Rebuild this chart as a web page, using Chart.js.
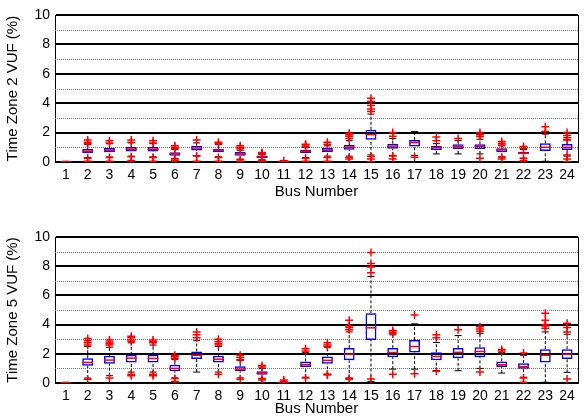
<!DOCTYPE html>
<html>
<head>
<meta charset="utf-8">
<script src="https://cdn.jsdelivr.net/npm/chart.js@4.4.1/dist/chart.umd.min.js"></script>
<style>
	html, body { margin: 0; padding: 0; background: #fff; overflow: hidden; }
	.panel { position: relative; width: 585px; height: 208px; }
</style>
</head>
<body>
<div class="panel"><canvas id="tz2"></canvas></div>
<div class="panel"><canvas id="tz5"></canvas></div>
<script>
// bus numbers on the x axis
const buses = ['1','2','3','4','5','6','7','8','9','10','11','12','13','14','15','16','17','18','19','20','21','22','23','24'];
const yTicks = [0, 2, 4, 6, 8, 10];

// time zone 2 box statistics (VUF %)
const tz2Low  = [0.00,0.30,0.34,0.40,0.35,0.25,0.40,0.35,0.20,0.15,0.02,0.30,0.40,0.40,0.48,0.45,0.45,0.55,0.55,0.55,0.35,0.25,0.05,0.40];
const tz2Q1   = [0.01,0.60,0.66,0.72,0.72,0.43,0.79,0.66,0.43,0.27,0.03,0.61,0.68,0.84,1.52,0.90,1.05,0.82,0.89,0.89,0.66,0.52,0.75,0.82];
const tz2Med  = [0.02,0.72,0.80,0.87,0.86,0.55,0.95,0.80,0.55,0.35,0.04,0.72,0.80,1.00,1.86,1.08,1.32,0.98,1.05,1.07,0.82,0.60,1.00,1.00];
const tz2Q3   = [0.04,0.88,0.95,1.02,1.02,0.66,1.11,0.90,0.68,0.45,0.05,0.84,0.95,1.15,2.19,1.24,1.50,1.09,1.20,1.20,0.93,0.70,1.27,1.23];
const tz2High = [0.05,1.20,1.24,1.30,1.25,0.85,1.30,1.20,0.80,0.50,0.06,1.00,1.10,1.45,3.26,1.60,2.07,1.25,1.45,1.55,1.10,0.85,1.90,1.50];
const tz2Out  = [
	[], [1.25,1.35,1.5,0.25,0.05], [1.3,1.45,0.3,0.05], [1.35,1.5,0.35,0.1,0.0],
	[1.3,1.45,0.3,0.05], [0.9,1.0,1.1,0.2,0.1,0.0], [1.5,0.42,0.05], [1.25,1.35,0.3,0.05],
	[0.9,1.0,1.1,0.15,0.05], [0.55,0.6,0.65,0.1,0.05], [0.08], [1.05,1.15,1.2,0.25,0.05],
	[1.2,1.35,0.3,0.05], [1.6,1.75,1.85,1.95,0.3,0.2], [3.44,3.6,3.85,4.12,4.34,0.38,0.2,0.02], [1.75,2.0,0.4,0.2],
	[0.32], [1.45,1.7], [1.6], [1.73,1.85,2.0,0.25],
	[1.16,1.28,1.39,0.32,0.2], [0.93,1.05,0.25,0.1,0.0], [2.07,2.4], [1.5,1.65,1.8,2.0,0.48,0.2,0.02]
];

// time zone 5 box statistics (VUF %)
const tz5Low  = [0.00,0.34,0.50,0.75,0.75,0.35,0.75,0.75,0.35,0.30,0.02,0.40,0.60,0.35,0.10,0.95,0.95,0.85,0.84,1.00,0.68,0.40,0.05,0.73];
const tz5Q1   = [0.01,1.18,1.32,1.41,1.41,0.80,1.64,1.41,0.80,0.57,0.03,1.09,1.32,1.55,2.95,1.77,2.09,1.55,1.70,1.77,1.09,0.98,1.41,1.64];
const tz5Med  = [0.02,1.41,1.57,1.70,1.68,1.00,1.90,1.63,0.95,0.68,0.04,1.27,1.55,1.98,3.78,2.09,2.50,1.82,2.10,2.16,1.25,1.12,1.90,1.97];
const tz5Q3   = [0.04,1.70,1.86,1.93,1.93,1.25,2.16,1.86,1.14,0.80,0.05,1.48,1.82,2.39,4.77,2.39,2.95,2.11,2.39,2.45,1.48,1.36,2.32,2.32];
const tz5High = [0.05,2.50,2.45,2.75,2.60,1.60,2.90,2.50,1.55,1.00,0.06,2.10,2.45,3.50,7.30,3.30,4.05,2.77,3.25,3.40,2.10,1.90,3.50,3.34];
const tz5Out  = [
	[], [2.6,2.75,2.9,3.05,0.25], [2.6,2.7,2.8,2.95,0.35], [2.85,2.95,3.1,3.2,0.6,0.5],
	[2.75,2.85,2.95,0.6,0.5], [1.7,1.8,1.9,0.3,0.1], [3.1,3.3,3.5], [2.6,2.7,2.85,3.0,0.6],
	[1.6,1.75,1.9,0.25], [1.1,1.2,0.3,0.2], [0.1,0.2], [2.2,2.35,0.35],
	[2.5,2.6,2.75,0.55,0.6], [3.65,3.8,3.9,4.3,0.3,0.25], [7.55,7.95,8.18,8.93,0.27], [3.4,3.5,3.6,0.6],
	[4.66,0.64], [3.1,3.3,0.8], [3.64], [3.55,3.7,3.85,0.75],
	[2.2,2.3], [2.05,0.34,0.05], [3.75,3.9,4.0,4.3,4.77], [3.5,3.8,4.1,0.27]
];

Chart.defaults.font.family = '"Liberation Sans", Arial, sans-serif';
Chart.defaults.font.size = 14;
Chart.defaults.color = '#000';

// dotted minor grid lines at the odd values
const minorGrid = {
	id: 'minorGrid',
	beforeDatasetsDraw(chart) {
		const {ctx, chartArea, scales} = chart;
		ctx.save();
		ctx.strokeStyle = '#777';
		ctx.lineWidth = 1;
		ctx.setLineDash([1, 1]);
		[1, 3, 5, 7, 9].forEach((v) => {
			const y = Math.round(scales.y.getPixelForValue(v)) + 0.5;
			ctx.beginPath();
			ctx.moveTo(chartArea.left, y);
			ctx.lineTo(chartArea.right, y);
			ctx.stroke();
		});
		ctx.restore();
	}
};

function makeBoxChart(canvasId, yTitle, low, q1, med, q3, high, out, padTop, xHeight, xTitlePad) {
	const whiskers = [];
	const caps = [];
	buses.forEach((b, i) => {
		whiskers.push({x: b, y: q3[i]}, {x: b, y: high[i]}, {x: b, y: null});
		whiskers.push({x: b, y: low[i]}, {x: b, y: q1[i]}, {x: b, y: null});
		caps.push({x: b, y: low[i]}, {x: b, y: high[i]});
	});
	const outliers = [];
	out.forEach((list, i) => {
		list.forEach((v) => outliers.push({x: buses[i], y: v}));
	});
	return new Chart(document.getElementById(canvasId), {
		type: 'bar',
		data: {
			labels: buses,
			datasets: [
				{
					type: 'line',
					data: outliers,
					showLine: false,
					pointStyle: 'cross',
					pointRadius: 4,
					borderColor: '#ff0000',
					pointBorderWidth: 1.5,
					order: 1
				},
				{
					type: 'line',
					data: med.map((v, i) => ({x: buses[i], y: v})),
					showLine: false,
					pointStyle: 'line',
					pointRadius: 5.5,
					borderColor: '#ff0000',
					pointBorderWidth: 1.5,
					order: 2
				},
				{
					type: 'line',
					data: caps,
					showLine: false,
					pointStyle: 'line',
					pointRadius: 3.5,
					borderColor: '#000',
					pointBorderWidth: 1,
					order: 3
				},
				{
					data: q1.map((v, i) => [v, q3[i]]),
					backgroundColor: 'rgba(255,255,255,0)',
					borderColor: '#0000ff',
					borderWidth: 1.5,
					borderSkipped: false,
					barPercentage: 0.5,
					categoryPercentage: 1,
					grouped: false,
					order: 4
				},
				{
					type: 'line',
					data: whiskers,
					spanGaps: false,
					borderColor: '#000',
					borderWidth: 1,
					borderDash: [3, 2],
					pointRadius: 0,
					order: 5
				}
			]
		},
		options: {
			responsive: true,
			maintainAspectRatio: false,
			animation: false,
			events: [],
			layout: { padding: { top: padTop, right: 1, left: 0, bottom: 0 } },
			plugins: { legend: { display: false }, tooltip: { enabled: false } },
			scales: {
				x: {
					type: 'category',
					grid: { display: false, drawTicks: false },
					border: { color: '#000', width: 1 },
					ticks: { padding: 5, maxRotation: 0, autoSkip: false },
					title: { display: true, text: 'Bus Number', font: { size: 15, lineHeight: 1 }, padding: { top: 0, bottom: xTitlePad } },
					afterFit(scale) { scale.height = xHeight; }
				},
				y: {
					min: 0,
					max: 10,
					afterBuildTicks(scale) { scale.ticks = yTicks.map((v) => ({value: v})); },
					grid: { color: '#000', lineWidth: 2, drawTicks: false },
					border: { color: '#000', width: 1 },
					ticks: { padding: 5 },
					title: { display: true, text: yTitle, font: { size: 15 }, padding: { top: 4, bottom: 0 } },
					afterFit(scale) { scale.width = 55; }
				},
				y2: {
					position: 'right',
					min: 0,
					max: 10,
					grid: { display: false, drawTicks: false },
					ticks: { display: false },
					border: { color: '#000', width: 1 },
					afterFit(scale) { scale.width = 0; }
				}
			}
		},
		plugins: [minorGrid]
	});
}

makeBoxChart('tz2', 'Time Zone 2 VUF (%)', tz2Low, tz2Q1, tz2Med, tz2Q3, tz2High, tz2Out, 15, 46, 9);
makeBoxChart('tz5', 'Time Zone 5 VUF (%)', tz5Low, tz5Q1, tz5Med, tz5Q3, tz5High, tz5Out, 29, 33, 0);
</script>
</body>
</html>
